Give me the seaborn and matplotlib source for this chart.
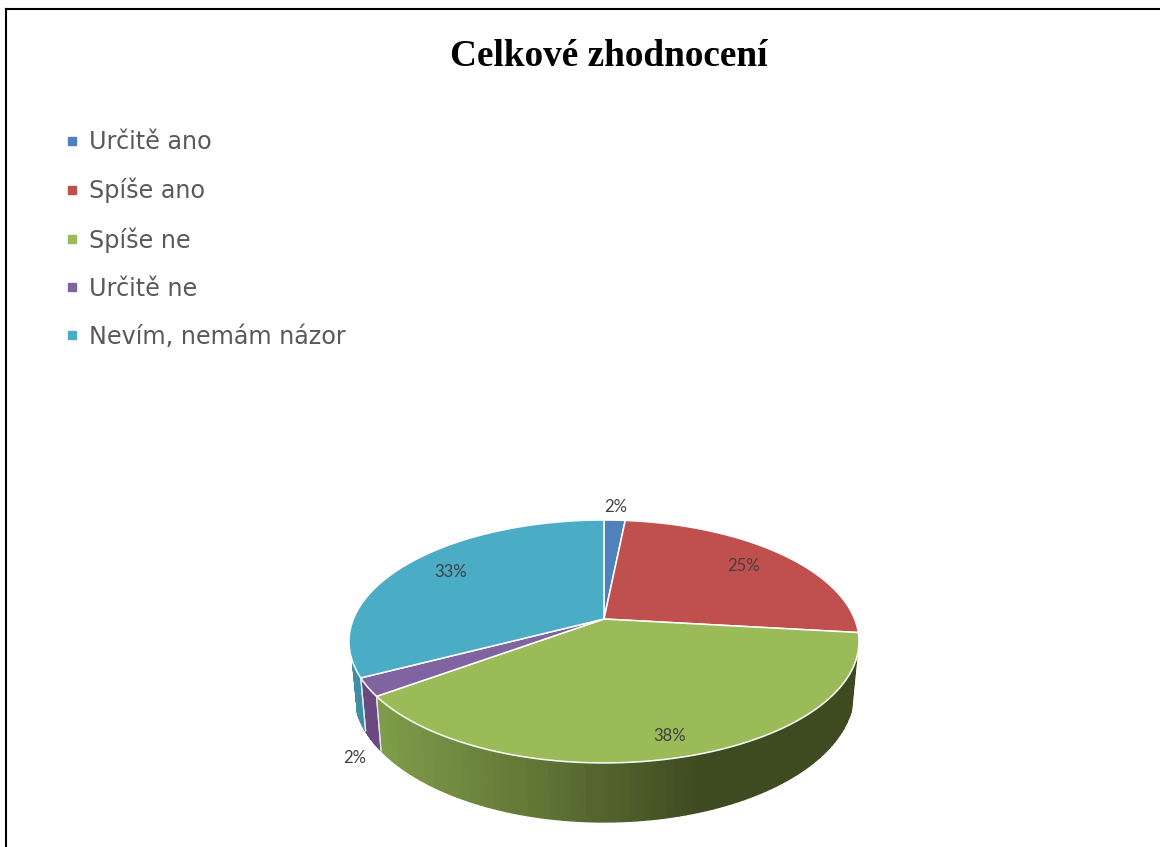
import numpy as np
import matplotlib
matplotlib.use("Agg")
import matplotlib.pyplot as plt
from matplotlib.lines import Line2D
import seaborn as sns

# values, the labels show them rounded
categories = ["Určitě ano", "Spíše ano", "Spíše ne", "Určitě ne", "Nevím, nemám názor"]
shares = [1.6, 25.2, 38.2, 2.4, 32.6]
title = "Celkové zhodnocení"

colors = ["#4f81bd", "#c0504d", "#9bbb59", "#8064a2", "#4bacc6"]
# how far out each percent label sits (1 = rim), small slices go outside
label_radius = [1.16, 0.78, 0.87, 1.05, 0.77]
label_drop = [0, 0, 0, 67, -3]

# pie geometry in image pixels
CX, CY = 604, 619
MID_Y = 641.5
A, B, P = 250.6, 117.3, 0.185
SCALE_X, SCALE_Y = 0.98, 1.07
DEPTH = 50.5

sns.set_theme(style="white")
plt.rcParams["font.family"] = ["DejaVu Sans"]


def project(r, theta):
    # flat disc seen in perspective, theta clockwise from the top
    x = r * np.sin(theta)
    z = r * np.cos(theta)
    s = 1 / (1 + P * z)
    return CX + A * x * s, CY - B * z * s


def lower(x, y):
    # bottom rim is narrower and deeper than the top one
    return CX + (x - CX) * SCALE_X, MID_Y + (y - MID_Y) * SCALE_Y + DEPTH


fig = plt.figure(figsize=(11.6, 8.47), dpi=100)
ax = fig.add_axes([0, 0, 1, 1])
ax.set_xlim(0, 1160)
ax.set_ylim(847, 0)
ax.axis("off")

edges = np.cumsum([0] + shares) / sum(shares) * 2 * np.pi
# wall shows only between these angles
right_limit = np.radians(108.2)
left_limit = np.radians(250)

# side wall, only the part facing the viewer
wall_shades = {
    2: sns.blend_palette(["#7f9c49", "#5f7535", "#3e4a20", "#3e4a20"], 90),
    3: ["#69497f"] * 90,
    4: ["#3d8fa6"] * 90,
}
for i, shades in wall_shades.items():
    start = max(edges[i], right_limit)
    stop = min(edges[i + 1], left_limit)
    steps = np.linspace(start, stop, len(shades) + 1)
    for k in range(len(shades)):
        t = np.linspace(steps[k], steps[k + 1], 4)
        x, y = project(1, t)
        xb, yb = lower(x, y)
        # shade follows screen position, dark on the right
        pos = np.clip((x.mean() - 376) / (859 - 376), 0, 1)
        c = shades[int(pos * (len(shades) - 1))]
        ax.fill(np.r_[x, xb[::-1]], np.r_[y, yb[::-1]], color=c, lw=1)
    for t in (start, stop):
        if t not in (left_limit, right_limit):
            x, y = project(1, t)
            xb, yb = lower(x, y)
            ax.plot([x, xb], [y, yb], color="#e8e8e8", lw=0.9)

# top face
for i, c in enumerate(colors):
    t = np.linspace(edges[i], edges[i + 1], 120)
    x, y = project(1, t)
    ax.fill(np.r_[CX, x], np.r_[CY, y], facecolor=c, edgecolor="white", lw=1.1, joinstyle="round")

# percent labels
for i, v in enumerate(shares):
    mid = (edges[i] + edges[i + 1]) / 2
    x, y = project(label_radius[i], mid)
    ax.text(x, y + label_drop[i], f"{round(v)}%", ha="center", va="center",
            fontsize=12, color="#404040", family="Lato")

ax.text(609, 56, title, ha="center", va="center", fontsize=26.8,
        fontweight="bold", family="Liberation Serif", color="black")

handles = [Line2D([], [], marker="s", ls="", ms=5.5, color=c) for c in colors]
ax.legend(handles, categories, loc="upper left", bbox_to_anchor=(66 / 1160, 1 - 130 / 847),
          frameon=False, fontsize=17.2, labelcolor="#595959", labelspacing=1.0,
          handlelength=0.5, handletextpad=0.46, borderpad=0, borderaxespad=0)

# page frame
ax.plot([6, 6], [847, 9], color="black", lw=1.5, solid_capstyle="projecting")
ax.plot([6, 1160], [9, 9], color="black", lw=1.5, solid_capstyle="projecting")

fig.savefig("out.png", dpi=100)
